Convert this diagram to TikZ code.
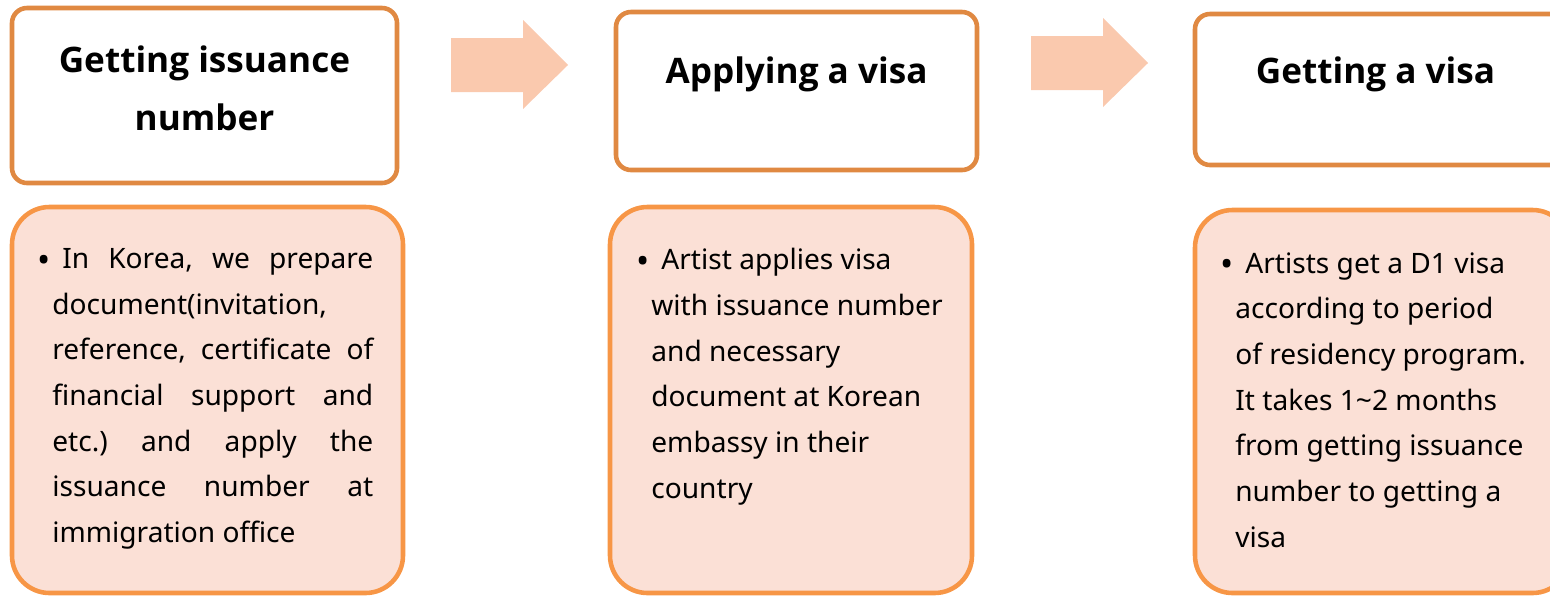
\documentclass[tikz,border=0pt]{standalone}
\usepackage{fontspec}
\setmainfont{Noto Sans}
\newfontfamily\headfont{Open Sans}
\definecolor{headline}{RGB}{224,137,66}
\definecolor{noteline}{RGB}{247,150,70}
\definecolor{notefill}{RGB}{251,224,214}
\definecolor{arrowfill}{RGB}{250,201,174}
\tikzset{
    headbox/.style={draw=headline, line width=2.6pt, fill=white, rounded corners=0.3cm},
    notebox/.style={draw=noteline, line width=2.6pt, fill=notefill, rounded corners=0.75cm},
    headtext/.style={font=\headfont\fontsize{20pt}{33pt}\selectfont\bfseries, align=center, inner sep=0pt, anchor=base},
    notetext/.style={font=\fontsize{16pt}{26pt}\selectfont\frenchspacing, inner sep=0pt, anchor=north west},
    bigarrow/.style={fill=arrowfill}
}
\newcommand{\bulletmark}{\hspace*{-0.16cm}\makebox[0pt]{\raisebox{-0.25ex}{\fontsize{20pt}{20pt}\selectfont•}}\hspace*{0.36cm}}
\begin{document}
\begin{tikzpicture}[x=0.02cm, y=-0.02cm]
    \useasboundingbox (0,0) rectangle (1550,596);
    \clip (0,0) rectangle (1550,596);
    % top boxes
    \draw[headbox] (12,8) rectangle (397,183);
    \draw[headbox] (616,12) rectangle (977,170);
    \draw[headbox] (1195,14) rectangle (1570,165);
    \node[headtext] (head1) at (204.5,72) {Getting issuance};
    \node[headtext] (head1b) at (204.5,130) {number};
    \node[headtext] (head2) at (796.5,83) {Applying a visa};
    \node[headtext] (head3) at (1375.5,83) {Getting a visa};
    % arrows
    \fill[bigarrow] (451,38) -- (523,38) -- (523,20) -- (568,65) -- (523,109) -- (523,92) -- (451,92) -- cycle;
    \fill[bigarrow] (1031,36) -- (1103,36) -- (1103,18) -- (1148,63) -- (1103,107) -- (1103,90) -- (1031,90) -- cycle;
    % bottom boxes
    \draw[notebox] (12,207) rectangle (403,593);
    \draw[notebox] (610,207) rectangle (972,593);
    \draw[notebox] (1195,210) rectangle (1570,593);
    \node[notetext, text width=6.42cm, align=justify] (note1) at (52,248) {\bulletmark In Korea, we prepare\linebreak
        document(invitation,\linebreak
        reference, certificate of\linebreak
        financial support and\linebreak
        etc.) and apply the\linebreak
        issuance number at\linebreak
        immigration office};
    \node[notetext, align=left] (note2) at (651,248) {\bulletmark Artist applies visa\\
        with issuance number\\
        and necessary\\
        document at Korean\\
        embassy in their\\
        country};
    \node[notetext, align=left] (note3) at (1235,252) {\bulletmark Artists get a D1 visa\\
        according to period\\
        of residency program.\\
        It takes 1\textasciitilde2 months\\
        from getting issuance\\
        number to getting a\\
        visa};
\end{tikzpicture}
\end{document}
